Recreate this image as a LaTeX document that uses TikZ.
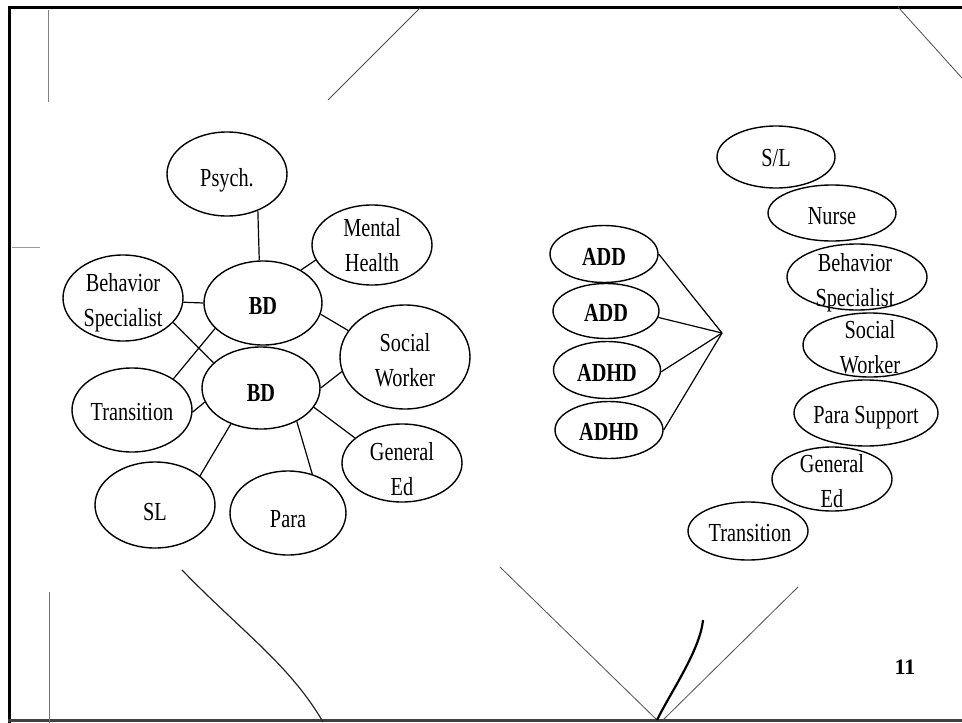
\documentclass[tikz,border=0pt]{standalone}
\usepackage{fontspec}
\setmainfont{Liberation Serif}
\newfontfamily\tnr[FakeStretch=0.78]{Liberation Serif}
\usetikzlibrary{shapes.geometric}
\begin{document}
\begin{tikzpicture}[x=1pt,y=-1pt,
  ell/.style={ellipse, draw, line width=1.4pt, inner sep=0pt},
  lab/.style={font=\tnr\fontsize{26}{35}\selectfont, align=center, inner sep=0pt},
  blab/.style={lab, font=\tnr\bfseries\fontsize{26}{35}\selectfont},
  conn/.style={line width=1.2pt},
  scan/.style={line width=0.8pt, black!70},
  framel/.style={line width=3pt, line cap=rect}]
\useasboundingbox (0,0) rectangle (962,723);
% frame and scan marks
\draw[framel] (9,723) -- (9,7) -- (962,7);
\draw[framel, black!75] (9,720) -- (962,720);
\draw[scan, black!50] (48,10) -- (48,102);
\draw[scan, black!40] (12,247) -- (40,247);
\draw[scan] (420,8) -- (328,100);
\draw[scan] (898,7) -- (962,78);
\draw[scan, black!55] (49,592) -- (49,723);
\draw[line width=1.2pt, black!85] (182,570) .. controls (240,630) and (290,665) .. (323,722);
\draw[scan] (500,567) -- (657,720);
\draw[scan] (663,720) -- (798,587);
\draw[line width=2.2pt] (657,720) .. controls (672,690) and (700,650) .. (703,620);
\node[font=\bfseries\fontsize{22}{22}\selectfont, inner sep=0pt] (pnum) at (905,667) {11};
% left cluster
\node[ell, minimum width=120pt, minimum height=84pt] (psych) at (227,174) {};
\node[ell, minimum width=120pt, minimum height=80pt] (mh) at (372,245) {};
\node[ell, minimum width=120pt, minimum height=86pt] (bsl) at (123,298) {};
\node[ell, minimum width=118pt, minimum height=84pt] (bdt) at (263,303) {};
\node[ell, minimum width=118pt, minimum height=82pt] (bdb) at (261,388) {};
\node[ell, minimum width=130pt, minimum height=104pt] (swl) at (405,357) {};
\node[ell, minimum width=120pt, minimum height=84pt] (trl) at (132,410) {};
\node[ell, minimum width=120pt, minimum height=78pt] (gel) at (402,463) {};
\node[ell, minimum width=120pt, minimum height=86pt] (sl) at (155,505) {};
\node[ell, minimum width=116pt, minimum height=84pt] (para) at (288,513) {};
\node[lab] (psych-t) at ([yshift=-6pt]psych.center) {Psych.};
\node[lab] (mh-t) at (mh.center) {Mental\\Health};
\node[lab] (bsl-t) at ([yshift=-5pt]bsl.center) {Behavior\\Specialist};
\node[blab] (bdt-t) at ([yshift=-3pt]bdt.center) {BD};
\node[blab] (bdb-t) at ([yshift=-5pt]bdb.center) {BD};
\node[lab] (swl-t) at ([yshift=-3pt]swl.center) {Social\\Worker};
\node[lab] (trl-t) at ([yshift=-2pt]trl.center) {Transition};
\node[lab] (gel-t) at ([yshift=-6pt]gel.center) {General\\Ed};
\node[lab] (sl-t) at ([yshift=-7pt]sl.center) {SL};
\node[lab] (para-t) at ([yshift=-6pt]para.center) {Para};
\draw[conn] (psych.-50) -- (bdt.95);
\draw[conn] (mh.195) -- (bdt.41);
\draw[conn] (bsl.-4) -- (bdt.180);
\draw[conn] (bsl.-26) -- (bdb.152);
\draw[conn] (trl.37) -- (bdt.-152);
\draw[conn] (trl.-2) -- (bdb.194);
\draw[conn] (bdt.-11) -- (swl.155);
\draw[conn] (bdb.0) -- (swl.193);
\draw[conn] (bdb.-20) -- (gel.152);
\draw[conn] (bdb.230) -- (sl.33);
\draw[conn] (bdb.-43) -- (para.58);
% middle group
\node[ell, minimum width=108pt, minimum height=57pt] (add1) at (604,254) {};
\node[ell, minimum width=106pt, minimum height=55pt] (add2) at (606,311) {};
\node[ell, minimum width=107pt, minimum height=57pt] (adhd1) at (607,370) {};
\node[ell, minimum width=108pt, minimum height=57pt] (adhd2) at (609,430) {};
\node[blab] (add1-t) at ([yshift=-3pt]add1.center) {ADD};
\node[blab] (add2-t) at ([yshift=-2pt]add2.center) {ADD};
\node[blab] (adhd1-t) at ([yshift=-3pt]adhd1.center) {ADHD};
\node[blab] (adhd2-t) at ([yshift=-2pt]adhd2.center) {ADHD};
\coordinate (hub) at (722,333);
\draw[conn] (add1.east) -- (hub);
\draw[conn] (add2.-7) -- (hub);
\draw[conn] (adhd1.-2) -- (hub);
\draw[conn] (adhd2.east) -- (hub);
% right column
\node[ell, minimum width=118pt, minimum height=62pt] (slr) at (776,157) {};
\node[ell, minimum width=128pt, minimum height=56pt] (nurse) at (832,213) {};
\node[ell, minimum width=140pt, minimum height=66pt] (bsr) at (857,277) {};
\node[ell, minimum width=134pt, minimum height=64pt] (swr) at (870,345) {};
\node[ell, minimum width=144pt, minimum height=66pt] (psr) at (866,413) {};
\node[ell, minimum width=120pt, minimum height=64pt] (ger) at (832,479) {};
\node[ell, minimum width=120pt, minimum height=58pt] (trr) at (748,531) {};
\node[lab] (slr-t) at ([yshift=-1pt]slr.center) {S/L};
\node[lab] (nurse-t) at ([yshift=-3.5pt]nurse.center) {Nurse};
\node[lab] (bsr-t) at ([yshift=-5.5pt, xshift=-2pt]bsr.center) {Behavior\\Specialist};
\node[lab] (swr-t) at ([yshift=-2.5pt]swr.center) {Social\\Worker};
\node[lab] (psr-t) at ([yshift=-5pt]psr.center) {Para Support};
\node[lab] (ger-t) at ([yshift=-2pt]ger.center) {General\\Ed};
\node[lab] (trr-t) at ([yshift=-2pt, xshift=2pt]trr.center) {Transition};
\end{tikzpicture}
\end{document}
